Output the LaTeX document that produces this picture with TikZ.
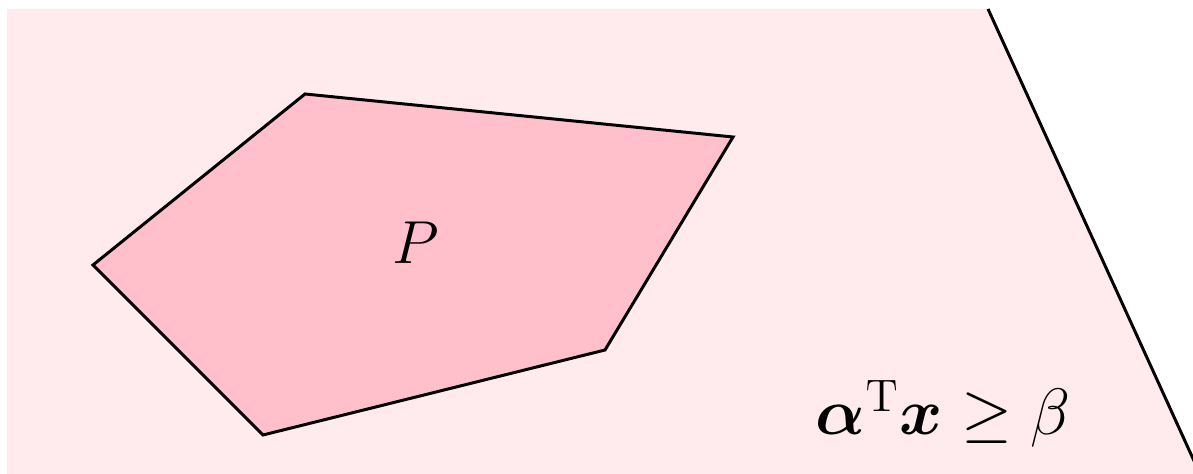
\documentclass[tikz,border=0pt]{standalone}
\usepackage{amsmath, amssymb}
\usepackage{bm}
\usepackage{tikz}
\usepackage{xcolor}
\usetikzlibrary{positioning, calc}
\definecolor{halffill}{HTML}{FFEBEE}
\definecolor{polyfill}{HTML}{FFC0CB}

\begin{document}
\begin{tikzpicture}[scale=1.0,
    edge/.style={black, line width=0.85pt, line join=miter},
    lbl/.style={inner sep=0pt, font=\LARGE}]
    \useasboundingbox (0,0) rectangle (11.93,4.74);
    \clip (0,0) rectangle (11.93,4.74);
    % half-space
    \coordinate (h1) at (0.07,0);
    \coordinate (h2) at (0.07,4.65);
    \coordinate (h3) at (9.88,4.65);
    \coordinate (h4) at (12.0,0);
    \fill[halffill] (h1) -- (h2) -- (h3) -- (h4) -- cycle;
    \draw[edge] (h3) -- (h4);
    % polytope
    \coordinate (v1) at (3.05,3.80);
    \coordinate (v2) at (7.33,3.37);
    \coordinate (v3) at (6.05,1.24);
    \coordinate (v4) at (2.63,0.39);
    \coordinate (v5) at (0.93,2.09);
    \draw[edge, fill=polyfill] (v1) -- (v2) -- (v3) -- (v4) -- (v5) -- cycle;
    \node[lbl] (p) at (4.16,2.31) {$P$};
    \node[lbl, anchor=base, scale=1.08] (ineq) at (9.43,0.39) {$\bm{\alpha}^{\mathrm{T}}\bm{x} \geq \beta$};
\end{tikzpicture}
\end{document}
